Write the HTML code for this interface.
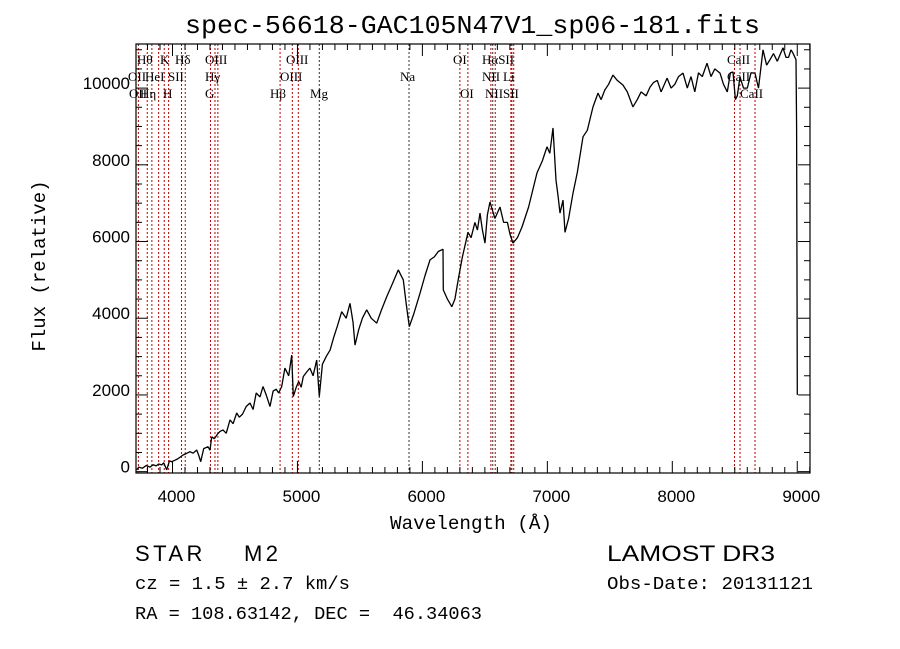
<!DOCTYPE html>
<html><head><meta charset="utf-8"><style>
html,body{margin:0;padding:0;background:#fff;}
svg{display:block;}
.mono{font-family:"Liberation Mono",monospace;}
.sans{font-family:"Liberation Sans",sans-serif;}
.serif{font-family:"Liberation Serif",serif;}
</style></head><body>
<svg id="chart" width="900" height="649" viewBox="0 0 900 649">
<rect width="900" height="649" fill="#fff"/>
<text x="185" y="33" textLength="575" lengthAdjust="spacingAndGlyphs" class="mono" font-size="26">spec-56618-GAC105N47V1_sp06-181.fits</text>
<g id="lines"></g>
<g id="labels"></g>
<path id="spec" fill="none" stroke="#000" stroke-width="1.3" stroke-linejoin="bevel"/>
<g id="axes"></g>
<text x="390" y="529" textLength="162" lengthAdjust="spacingAndGlyphs" class="mono" font-size="19">Wavelength (Å)</text>
<text transform="translate(45,266) rotate(-90)" text-anchor="middle" class="mono" font-size="19">Flux (relative)</text>
<text x="135" y="561" textLength="143" lengthAdjust="spacing" class="sans" font-size="22" xml:space="preserve">STAR    M2</text>
<text x="135" y="589" textLength="215" lengthAdjust="spacingAndGlyphs" class="mono" font-size="18">cz = 1.5 ± 2.7 km/s</text>
<text x="135" y="619" textLength="347" lengthAdjust="spacingAndGlyphs" class="mono" font-size="18" xml:space="preserve">RA = 108.63142, DEC =  46.34063</text>
<text x="607" y="561" textLength="168" lengthAdjust="spacingAndGlyphs" class="sans" font-size="22">LAMOST DR3</text>
<text x="607" y="589" textLength="206" lengthAdjust="spacingAndGlyphs" class="mono" font-size="18">Obs-Date: 20131121</text>
</svg>
<script>
const wavelengths=[3714,3730,3760,3790,3820,3845,3870,3890,3914,3930,3954,3975,3994,4020,4040,4062,4084,4110,4140,4165,4194,4210,4226,4250,4284,4300,4314,4335,4360,4380,4404,4430,4460,4485,4514,4535,4560,4590,4620,4645,4670,4700,4724,4750,4780,4805,4830,4850,4874,4900,4930,4954,4967,4990,5010,5030,5047,5075,5100,5125,5154,5175,5200,5230,5261,5290,5320,5354,5390,5421,5445,5461,5490,5520,5554,5590,5634,5670,5714,5760,5807,5847,5870,5895,5930,5981,6020,6061,6095,6127,6165,6167,6200,6235,6260,6289,6320,6365,6390,6420,6440,6461,6480,6501,6520,6541,6580,6621,6650,6680,6700,6725,6760,6797,6850,6917,6960,6997,7020,7045,7069,7085,7101,7125,7141,7170,7205,7240,7285,7320,7365,7405,7430,7460,7490,7525,7560,7605,7640,7685,7720,7750,7790,7822,7850,7880,7910,7958,7990,8020,8050,8086,8120,8150,8180,8210,8240,8278,8310,8340,8382,8410,8440,8465,8486,8505,8520,8542,8570,8600,8630,8662,8690,8726,8755,8782,8810,8840,8886,8910,8930,8950,8966,8990,8995,9000];
const fluxes=[45,120,90,160,120,180,150,200,175,230,45,280,260,300,330,380,435,470,520,480,565,430,260,600,650,560,910,860,980,1050,1090,1000,1350,1250,1530,1420,1500,1700,1790,1620,2050,1950,2220,2000,1700,2100,2150,2050,2220,2700,2500,3040,1960,2200,2350,2200,2480,2600,2700,2500,2910,1960,2800,3000,3170,3500,3800,4170,4000,4390,3900,3300,3700,4000,4220,4000,3870,4200,4560,4900,5260,5000,4400,3780,4100,4650,5100,5520,5600,5740,5800,4740,4500,4300,4500,5050,5600,6240,6100,6500,6300,6740,6300,5960,6700,7030,6600,6900,6500,6500,6200,5960,6100,6380,6900,7790,8100,8470,8300,8960,7600,7200,6740,7080,6240,6600,7260,7800,8730,8900,9510,9870,9700,9950,10100,10340,10200,10080,9900,9510,9700,9900,9800,10030,10150,10200,9900,10260,10000,10100,10300,10390,10000,10300,9900,10400,10300,10650,10300,10500,10390,10100,9900,10400,10420,9700,9800,10290,10000,10000,10400,10390,10000,11000,10600,10740,10900,10700,11050,10800,10800,11000,10910,10740,9000,2000];
const lineWaves=[3727,3798,3835,3889,3934,3969,4072,4102,4304,4340,4363,4861,4959,5007,5175,5893,6300,6364,6548,6563,6583,6708,6716,6731,8498,8542,8662];
const lineColors=["r","r","r","r","r","r","r","r","r","r","r","r","r","r","k","k","r","r","r","k","r","r","r","r","r","r","r"];
const labelTexts=["Hθ","K","Hδ","OIII","OIII","OI","HαSII","CaII","OII","HeI","SII","Hγ","OIII","Na","NII","Li","CaII","OII","Hη","H","G","Hβ","Mg","OI","NII","SII","CaII"];
const labelRows=[0,0,0,0,0,0,0,0,1,1,1,1,1,1,1,1,1,2,2,2,2,2,2,2,2,2,2];
const labelXs=[137,160,175,205,286,453,482,727,128,145,168,205,280,400,482,503,727,129,140,163,205,270,310,460,485,503,740];
const xTickValues=[4000,5000,6000,7000,8000,9000];
const yTickValues=[0,2000,4000,6000,8000,10000];

const L=136,R=810,T=44,B=473,XMIN=3708,XMAX=9102,YMIN=-35,YMAX=11150;
const X=w=>L+(w-XMIN)/(XMAX-XMIN)*(R-L);
const Y=f=>B-(f-YMIN)/(YMAX-YMIN)*(B-T);
const NS="http://www.w3.org/2000/svg";
function mk(tag,attrs,parent){const e=document.createElementNS(NS,tag);for(const k in attrs)e.setAttribute(k,attrs[k]);parent.appendChild(e);return e;}

const gl=document.getElementById('lines');
lineWaves.forEach((w,i)=>{
  const l=mk('line',{x1:X(w),x2:X(w),y1:T,y2:B,stroke:lineColors[i]==='r'?'#c00000':'#333','stroke-width':1,'stroke-dasharray':'2,2'},gl);
  
  
});
const glab=document.getElementById('labels');
labelTexts.forEach((t,i)=>{
  const e=mk('text',{x:labelXs[i],y:64+labelRows[i]*17,'font-size':13,class:'serif'},glab);
  e.textContent=t;
  
  
});
let d='';
wavelengths.forEach((w,i)=>{d+=(i?'L':'M')+X(w).toFixed(1)+','+Y(fluxes[i]).toFixed(1);});
document.getElementById('spec').setAttribute('d',d);

const ga=document.getElementById('axes');
const frame=mk('rect',{x:L,y:T,width:R-L,height:B-T,fill:'none',stroke:'#000','stroke-width':1.2},ga);


for(let w=3800;w<=9100;w+=100){
  const major=w%1000===0,len=major?12:6,x=X(w);
  mk('line',{x1:x,x2:x,y1:B,y2:B-len,stroke:'#000'},ga);
  mk('line',{x1:x,x2:x,y1:T,y2:T+len,stroke:'#000'},ga);
}
for(let f=0;f<=11000;f+=500){
  const major=f%2000===0,len=major?12:6,y=Y(f);
  mk('line',{x1:L,x2:L+len,y1:y,y2:y,stroke:'#000'},ga);
  mk('line',{x1:R,x2:R-len,y1:y,y2:y,stroke:'#000'},ga);
}
xTickValues.forEach(v=>{
  const t=mk('text',{x:X(v)+4,y:502,'text-anchor':'middle','font-size':17,class:'sans'},ga);
  t.textContent=v;
  
  
});
yTickValues.forEach(v=>{
  const t=mk('text',{x:130,y:Y(v)+1,'text-anchor':'end','font-size':17,class:'sans'},ga);
  t.textContent=v;
  
  
});
</script>
</body></html>
